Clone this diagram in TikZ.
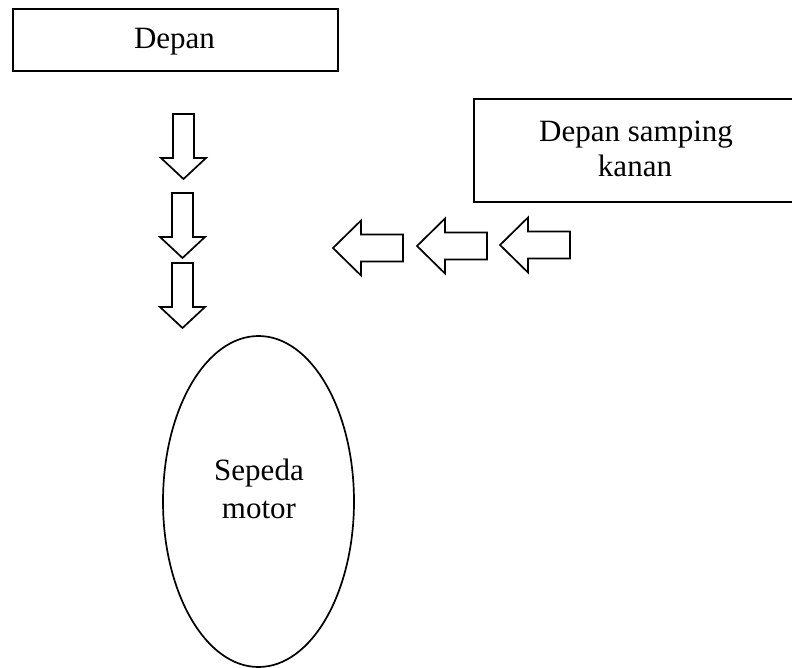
\documentclass[tikz,border=0pt]{standalone}
\usepackage{fontspec}
\setmainfont{Liberation Serif}
\usetikzlibrary{shapes.geometric}

\tikzset{
  boxframe/.style={draw=black, line width=2.2pt, fill=white, inner sep=0pt},
  blockline/.style={draw=black, line width=1.7pt, fill=white, line join=miter},
  caption/.style={anchor=base, inner sep=0pt, font=\fontsize{31}{36}\selectfont},
  % hollow block arrow pointing down, origin at the top of the shaft
  pics/downblock/.style={code={
    \draw[blockline] (-10.5,0) -- (10.5,0) -- (10.5,44) -- (22.5,44)
      -- (0,65) -- (-22.5,44) -- (-10.5,44) -- cycle;}},
  % hollow block arrow pointing left, origin at the tip
  pics/leftblock/.style={code={
    \draw[blockline] (0,0) -- (28,-27.5) -- (28,-13.5) -- (70,-13.5)
      -- (70,13.5) -- (28,13.5) -- (28,27.5) -- cycle;}},
}

\begin{document}
\begin{tikzpicture}[x=1pt, y=-1pt]
  \useasboundingbox (0,0) rectangle (792,668);

  % front box
  \node[boxframe, minimum width=325pt, minimum height=62pt] (front) at (175.5,40) {};
  \node[caption] (frontlbl) at (174.5,49) {Depan};

  % front-right box (runs off the right edge)
  \node[boxframe, minimum width=326pt, minimum height=103pt] (frontright) at (637,150.5) {};
  \node[caption] (frlbla) at (636,142) {Depan samping};
  \node[caption] (frlblb) at (635,177) {kanan};

  % arrows coming from the front
  \pic at (183.5,114) {downblock};
  \pic at (182.5,193) {downblock};
  \pic at (182.5,263) {downblock};

  % arrows coming from the front right
  \pic at (333,248) {leftblock};
  \pic at (417,246) {leftblock};
  \pic at (500,245) {leftblock};

  % motorcycle
  \node[ellipse, draw=black, line width=1.7pt, minimum width=191pt,
        minimum height=331pt, inner sep=0pt] (moto) at (258.5,501.5) {};
  \node[caption] (motolbla) at (259,480) {Sepeda};
  \node[caption] (motolblb) at (259,518) {motor};
\end{tikzpicture}
\end{document}
